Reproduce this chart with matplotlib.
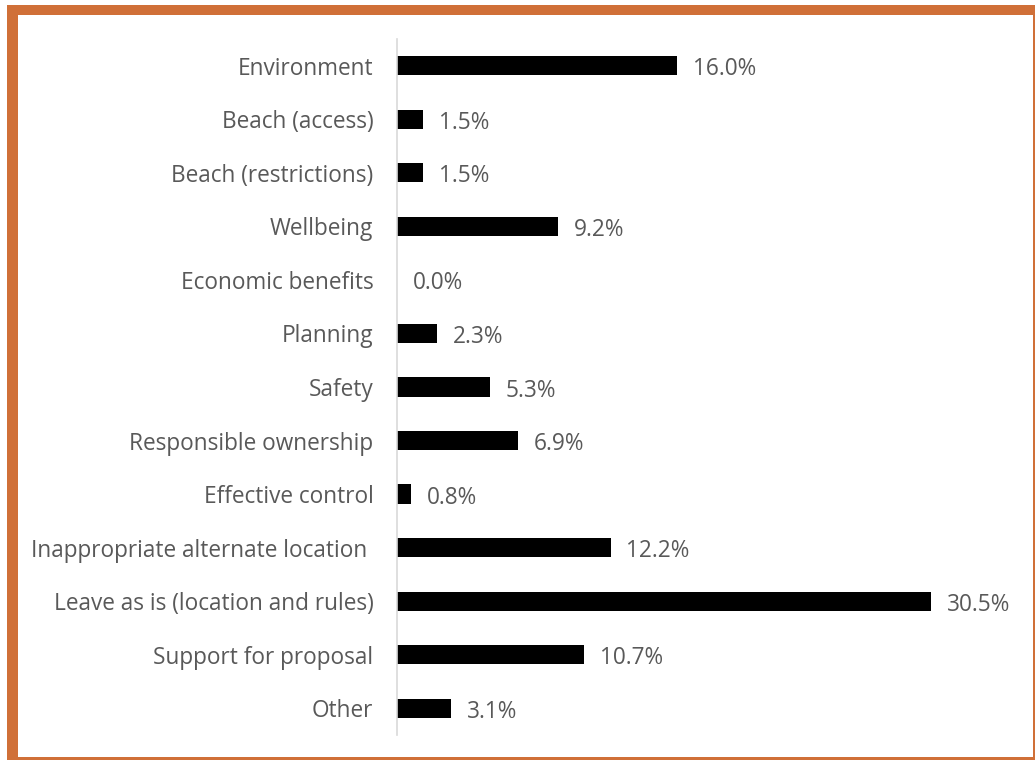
import matplotlib.pyplot as plt
from matplotlib.patches import Rectangle

categories = ["Environment", "Beach (access)", "Beach (restrictions)", "Wellbeing",
              "Economic benefits", "Planning", "Safety", "Responsible ownership",
              "Effective control", "Inappropriate alternate location ",
              "Leave as is (location and rules)", "Support for proposal", "Other"]
values = [16.0, 1.5, 1.5, 9.2, 0.0, 2.3, 5.3, 6.9, 0.8, 12.2, 30.5, 10.7, 3.1]

plt.rcParams['font.family'] = ['Open Sans', 'DejaVu Sans']
text_color = '#595959'
frame_color = '#D07038'
fs = 16.3

fig = plt.figure(figsize=(10.35, 7.6), dpi=100)
ax = fig.add_axes([397 / 1035, 1 - 735 / 760, (1010 - 397) / 1035, (735 - 39) / 760])

ypos = list(range(len(categories)))
ax.barh(ypos, values, height=0.36, color='black')
for y, v in zip(ypos, values):
    ax.text(v + 0.9, y + 0.01, f"{v:.1f}%", va='center_baseline', ha='left', fontsize=fs, color=text_color)

ax.set_ylim(len(categories) - 0.5, -0.5)
ax.set_xlim(0, 35)
ax.set_yticks(ypos)
ax.set_yticklabels(categories, fontsize=fs, color=text_color, va='center_baseline')
ax.tick_params(axis='y', length=0, pad=17)
ax.set_xticks([])
for s in ['top', 'right', 'bottom']:
    ax.spines[s].set_visible(False)
ax.spines['left'].set_color('#D9D9D9')
ax.spines['left'].set_linewidth(1.2)

# orange frame round the chart
fig.patches.append(Rectangle((7 / 1035, 0), 11 / 1035, 1 - 5 / 760, transform=fig.transFigure,
                             color=frame_color, lw=0))
fig.patches.append(Rectangle((7 / 1035, 1 - 15 / 760), 1 - 7 / 1035, 10 / 760, transform=fig.transFigure,
                             color=frame_color, lw=0))
fig.patches.append(Rectangle((1 - 2 / 1035, 0), 2 / 1035, 1 - 5 / 760, transform=fig.transFigure,
                             color=frame_color, lw=0))
fig.patches.append(Rectangle((7 / 1035, 0), 1 - 7 / 1035, 3 / 760, transform=fig.transFigure,
                             color=frame_color, lw=0))

fig.savefig('out.png', dpi=100)
